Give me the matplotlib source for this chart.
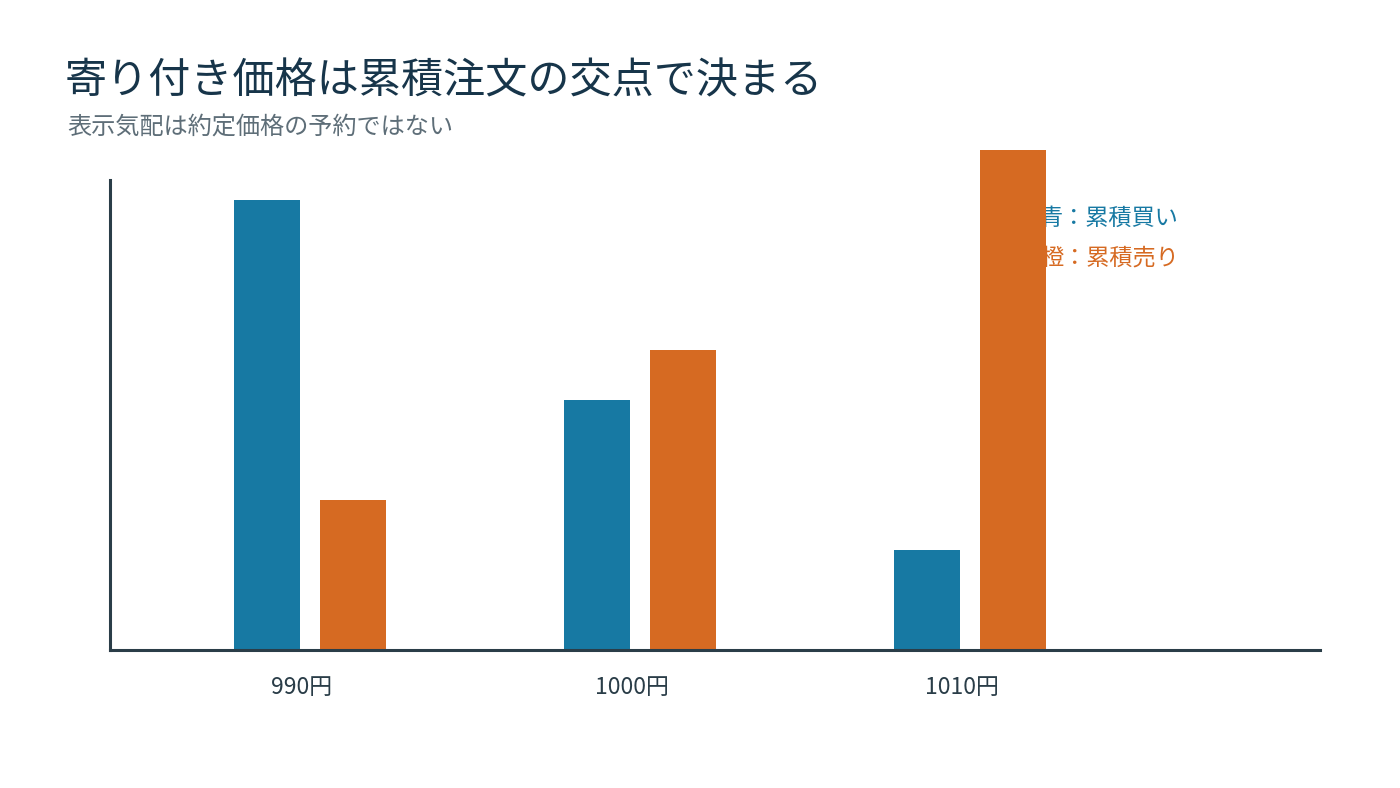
import numpy as np
import matplotlib.pyplot as plt

plt.rcParams["font.family"] = ["Noto Sans CJK JP", "DejaVu Sans"]

prices = ["990円", "1000円", "1010円"]
cum_buy = [9, 5, 2]
cum_sell = [3, 6, 10]

title = "寄り付き価格は累積注文の交点で決まる"
subtitle = "表示気配は約定価格の予約ではない"
legend_buy = "青：累積買い"
legend_sell = "橙：累積売り"

blue = "#1779a3"
orange = "#d66a22"
dark = "#2a3d48"

W, H = 1400, 788
fig = plt.figure(figsize=(W / 100, H / 100), dpi=100)
ax = fig.add_axes([110 / W, (H - 650) / H, 1210 / W, 470 / H])

x = np.arange(len(prices))
w = 0.2
off = 0.129
ax.bar(x - off, cum_buy, width=w, color=blue, clip_on=False, zorder=3)
ax.bar(x + off, cum_sell, width=w, color=orange, clip_on=False, zorder=3)

ax.set_xlim(-200 / 330, 1010 / 330)
ax.set_ylim(0, 9.4)

for s in ["top", "right"]:
    ax.spines[s].set_visible(False)
for s in ["left", "bottom"]:
    ax.spines[s].set_color(dark)
    ax.spines[s].set_linewidth(2.2)
    ax.spines[s].set_zorder(4)

ax.set_yticks([])
ax.set_xticks(x - 0.025)
ax.set_xticklabels(prices, fontsize=16.5, color=dark)
ax.tick_params(axis="x", length=0, pad=18.5)

# legend as plain text, sitting under the bars
ax.text(730 / 330, 432 / 50, legend_buy, color=blue, fontsize=16.7,
        va="center", ha="left", zorder=1)
ax.text(730 / 330, 392 / 50, legend_sell, color=orange, fontsize=16.7,
        va="center", ha="left", zorder=1)

fig.text(65 / W, 1 - 81 / H, title, fontsize=30.3, color="#17354a",
         va="center", ha="left")
fig.text(67 / W, 1 - 128 / H, subtitle, fontsize=17.4, color="#5e6e78",
         va="center", ha="left")

fig.savefig("out.png", dpi=100)
